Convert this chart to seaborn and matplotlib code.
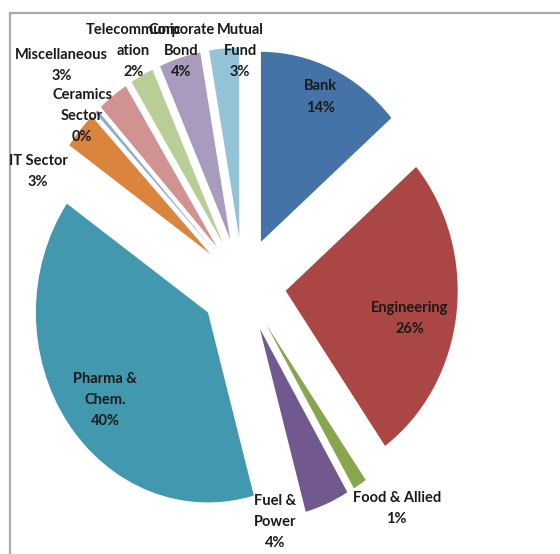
import matplotlib
matplotlib.use("Agg")
import numpy as np
import matplotlib.pyplot as plt
import seaborn as sns

# sector shares of the portfolio and printed labels
sectors = ["Bank", "Engineering", "Food & Allied", "Fuel &\nPower", "Pharma &\nChem.",
           "IT Sector", "Ceramics\nSector", "Miscellaneous", "Telecommunic\nation",
           "Corporate\nBond", "Mutual\nFund"]
shares = [13.7, 26.5, 1.3, 4.2, 39.0, 3.2, 0.3, 2.9, 2.2, 3.9, 2.8]
pct_labels = ["14%", "26%", "1%", "4%", "40%", "3%", "0%", "3%", "2%", "4%", "3%"]

colors = ["#4572A7", "#AA4643", "#89A54E", "#71588F", "#4198AF", "#DB843D",
          "#93A9CF", "#D19392", "#B9CD96", "#A99BBD", "#92C3D6"]

# label placement: distance from pie centre and angle nudge (deg) from slice middle
label_r = [1.086, 0.986, 1.476, 1.261, 1.005, 1.334, 1.29, 1.565, 1.388, 1.283, 1.232]
label_shift = [0.3, -3.2, 4.3, -14.5, 1.7, 14.0, 3.5, 5.1, -0.7, -0.9, -4.3]

sns.set_theme(style="white")
plt.rcParams["font.family"] = ["Lato", "DejaVu Sans"]
pal = sns.color_palette(colors)

fig = plt.figure(figsize=(5.6, 5.54), dpi=100)

# chart frame (only top and left edges visible in the crop)
fr = fig.add_axes([10 / 560, -0.1, 1.2, 1.1 - 13 / 554])
fr.set_xticks([])
fr.set_yticks([])
for side in ["right", "bottom"]:
    fr.spines[side].set_visible(False)
for side in ["left", "top"]:
    fr.spines[side].set_color("#ABABAB")
    fr.spines[side].set_linewidth(1.6)
fr.patch.set_alpha(0)

ax = fig.add_axes([0, 0, 1, 1])
wedges, _ = ax.pie(shares, colors=pal, startangle=90, counterclock=False,
                   explode=[0.25] * len(shares), radius=1,
                   wedgeprops=dict(linewidth=0))
ax.set_aspect("auto")
ax.set_xlim(-243 / 172, 317 / 172)
ax.set_ylim(-269 / 190, 285 / 190)
ax.axis("off")

for w, name, pct, r, sh in zip(wedges, sectors, pct_labels, label_r, label_shift):
    mid = np.deg2rad((w.theta1 + w.theta2) / 2 + sh)
    ax.text(r * np.cos(mid), r * np.sin(mid), f"{name}\n{pct}",
            ha="center", va="center", fontsize=10.5, fontweight="bold",
            color="#1a1a1a", linespacing=1.65)

fig.savefig("out.png", dpi=100)
